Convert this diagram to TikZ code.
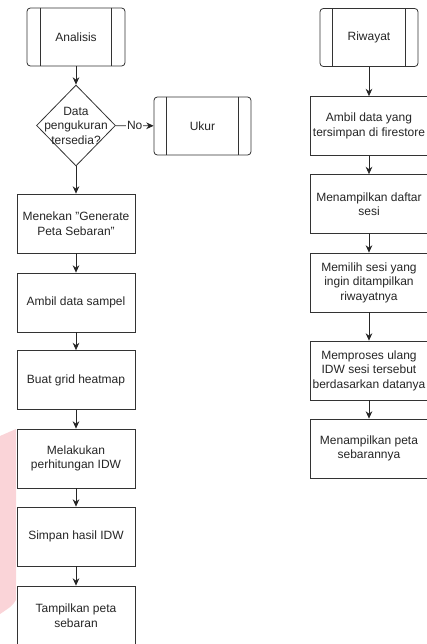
\documentclass[tikz,border=0pt]{standalone}
\usepackage{fontspec}
\setmainfont{Liberation Sans}
\usetikzlibrary{arrows.meta,positioning,calc,shapes.geometric}
\definecolor{wmpink}{HTML}{FAD4D8}
\tikzset{proc/.style={draw=black!80, line width=0.6pt, fill=white, text=black!85, minimum width=88.5pt, minimum height=44.25pt, inner sep=1pt, align=center, font=\fontsize{9}{10.9}\selectfont}}
\tikzset{pproc/.style={proc, rounded corners=2.5, minimum width=73.5pt, minimum height=43.5pt}}
\tikzset{dec/.style={diamond, draw=black!80, line width=0.6pt, fill=white, inner sep=0pt, minimum width=59.25pt, minimum height=60.75pt}}
\tikzset{arr/.style={draw=black!85, line width=0.6pt, -{Stealth[length=5.5pt,width=5pt]}}}

\begin{document}
\begin{tikzpicture}[x=0.75pt, y=-0.75pt]
                \useasboundingbox (0,0) rectangle (426,644);
                \fill[wmpink] (0,436) -- (16,429) -- (16,600) .. controls (12,606) .. (0,614) -- cycle;

                % kiri: analisis
                \node[pproc] (Ana) at (76,37) {Analisis};
                \node[dec, label={[align=center, text=black!85, font=\fontsize{9}{10.9}\selectfont]center:Data\\pengukuran\\tersedia?}] (Dec) at (76,125.5) {};
                \node[pproc, minimum width=72.75pt] (Ukur) at (202.5,126) {Ukur};
                \node[proc] (Gen) at (76,223.5) {Menekan "Generate\\Peta Sebaran"};
                \node[proc] (Samp) at (76,302.5) {Ambil data sampel};
                \node[proc] (Grid) at (76,380) {Buat grid heatmap};
                \node[proc] (Hit) at (76,458.5) {Melakukan\\perhitungan IDW};
                \node[proc] (Simp) at (76,536.5) {Simpan hasil IDW};
                \node[proc] (Tamp) at (76,615.5) {Tampilkan peta\\sebaran};

                % kanan: riwayat
                \node[pproc] (Riw) at (369,37.5) {Riwayat};
                \node[proc] (Fire) at (369,126) {Ambil data yang\\tersimpan di firestore};
                \node[proc] (Daft) at (369,204) {Menampilkan daftar\\sesi};
                \node[proc] (Pilih) at (369,282.5) {Memilih sesi yang\\ingin ditampilkan\\riwayatnya};
                \node[proc] (Pros) at (369,370.5) {Memproses ulang\\IDW sesi tersebut\\berdasarkan datanya};
                \node[proc] (Peta) at (369,448.5) {Menampilkan peta\\sebarannya};

                \foreach \n/\d in {Ana/14, Riw/13, Ukur/13}{
                    \draw[black!80, line width=0.6pt] ($(\n.north west)+(\d,0)$) -- ($(\n.south west)+(\d,0)$);
                    \draw[black!80, line width=0.6pt] ($(\n.north east)+(-\d,0)$) -- ($(\n.south east)+(-\d,0)$);
                }

                \draw[arr] (Ana) to (Dec);
                \draw[arr] (Dec) to node[fill=white, inner sep=0.5pt, text=black!85, font=\fontsize{9}{10.9}\selectfont] {No} (Ukur);
                \draw[arr] (Dec) to (Gen);
                \draw[arr] (Gen) to (Samp);
                \draw[arr] (Samp) to (Grid);
                \draw[arr] (Grid) to (Hit);
                \draw[arr] (Hit) to (Simp);
                \draw[arr] (Simp) to (Tamp);

                \draw[arr] (Riw) to (Fire);
                \draw[arr] (Fire) to (Daft);
                \draw[arr] (Daft) to (Pilih);
                \draw[arr] (Pilih) to (Pros);
                \draw[arr] (Pros) to (Peta);
            \end{tikzpicture}
\end{document}
